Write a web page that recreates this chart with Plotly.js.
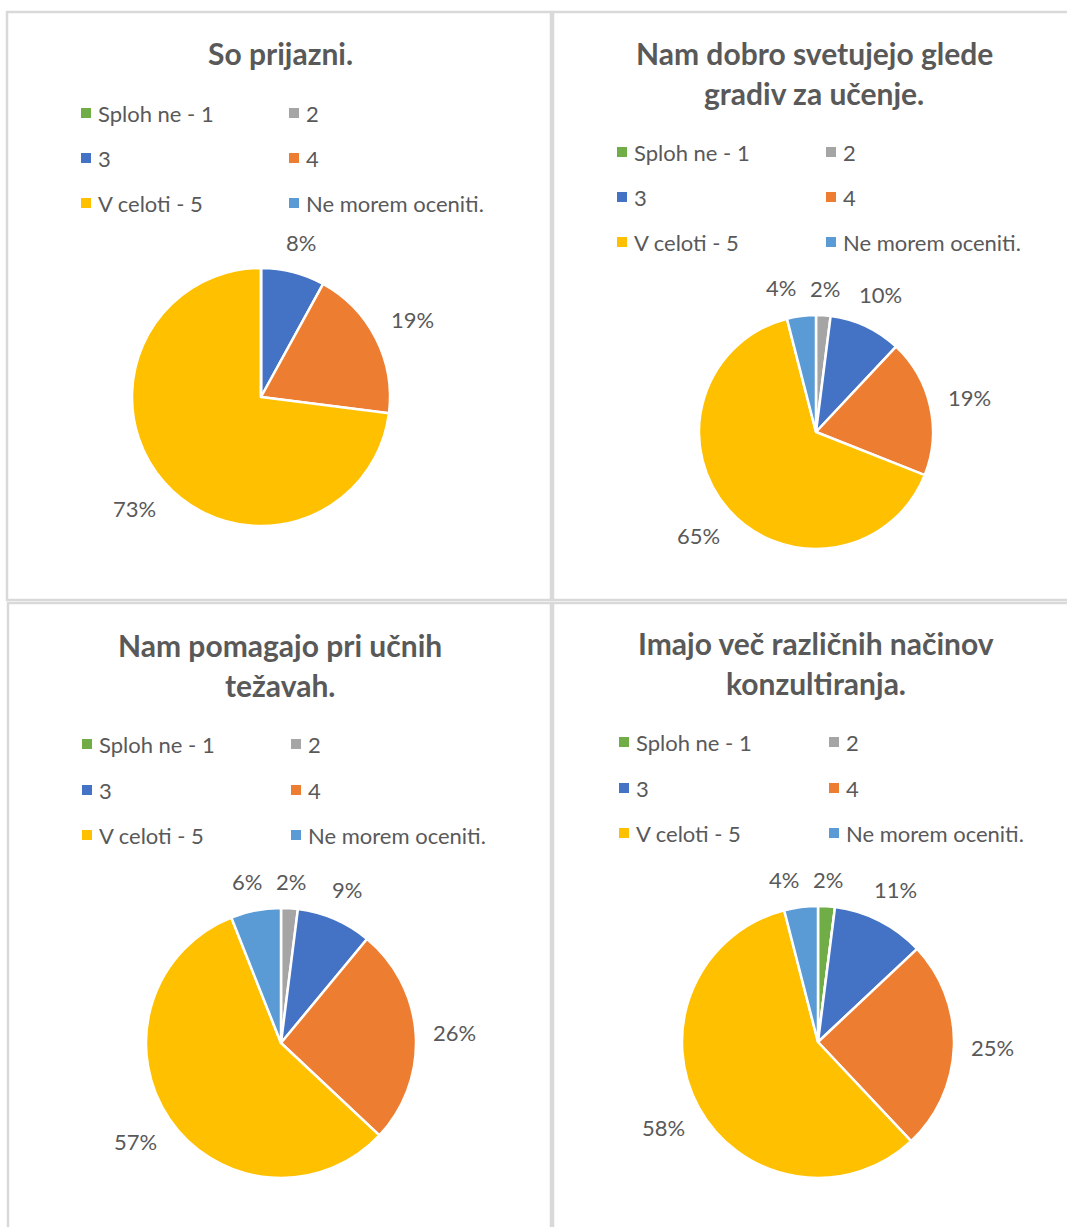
<!DOCTYPE html>
<html><head><meta charset="utf-8">
<script src="https://cdn.plot.ly/plotly-3.0.1.min.js"></script>
<style>html,body{margin:0;padding:0;background:#fff;} #chart{width:1067px;height:1227px;}</style>
</head><body><div id="chart"></div>
<script>
// ---- data ----
const categories = ["Sploh ne - 1", "2", "3", "4", "V celoti - 5", "Ne morem oceniti."];
const colors = ["#70AD47", "#A5A5A5", "#4472C4", "#ED7D31", "#FFC000", "#5B9BD5"];
const titles = [
  "So prijazni.",
  "Nam dobro svetujejo glede<br>gradiv za učenje.",
  "Nam pomagajo pri učnih<br>težavah.",
  "Imajo več različnih načinov<br>konzultiranja."
];
const valuesPrijazni = [0, 0, 8, 19, 73, 0];
const valuesGradiva = [0, 2, 10, 19, 65, 4];
const valuesTezave = [0, 2, 9, 26, 57, 6];
const valuesKonzultiranje = [2, 0, 11, 25, 58, 4];

// ---- layout geometry (pixels) ----
const W = 1067, H = 1227;
const FONT = "Lato, 'Open Sans', sans-serif";
const TXT = "#595959";
const panels = [
  {vals: valuesPrijazni, title: titles[0], box: [7, 12, 551, 600], tx: 280, ty: 53, cx: 261, cy: 397, r: 129, lx: [81, 289], ly: [113, 158, 203]},
  {vals: valuesGradiva, title: titles[1], box: [553, 12, 1075, 600], tx: 814, ty: 53, cx: 816, cy: 432, r: 117, lx: [617, 826], ly: [152, 197, 242]},
  {vals: valuesTezave, title: titles[2], box: [8, 603, 551, 1235], tx: 280, ty: 645, cx: 281, cy: 1043, r: 135, lx: [82, 291], ly: [744, 790, 835]},
  {vals: valuesKonzultiranje, title: titles[3], box: [553, 603, 1075, 1235], tx: 816, ty: 643, cx: 818, cy: 1042, r: 136, lx: [619, 829], ly: [742, 788, 833]}
];
const px = x => x / W;
const py = y => 1 - y / H;

const traces = [], shapes = [], annotations = [];
panels.forEach(p => {
  traces.push({
    type: "pie",
    values: p.vals,
    labels: categories,
    textinfo: "none",
    sort: false,
    direction: "clockwise",
    rotation: 0,
    marker: {colors: colors, line: {color: "#ffffff", width: 2.5}},
    domain: {x: [px(p.cx - p.r), px(p.cx + p.r)], y: [py(p.cy + p.r), py(p.cy - p.r)]},
    showlegend: false,
    hoverinfo: "none"
  });
  // percentage labels placed outside each slice, following the slice mid-angle
  const total = p.vals.reduce((a, b) => a + b, 0);
  let cum = 0;
  const labs = [];
  p.vals.forEach(v => {
    if (v > 0) {
      const t = (cum + v / 2) / total * 2 * Math.PI;
      const txt = Math.round(v / total * 100) + "%";
      const hw = txt.length * 6 + 6, hh = 12;
      const d = p.r + 14 + Math.abs(Math.sin(t)) * hw + Math.abs(Math.cos(t)) * hh;
      labs.push({txt, x: p.cx + d * Math.sin(t), y: p.cy - d * Math.cos(t), hw, hh});
    }
    cum += v;
  });
  // simple collision avoidance: push overlapping labels apart horizontally
  for (let i = 0; i < labs.length; i++) {
    for (let j = 0; j < labs.length; j++) {
      if (i === j) continue;
      const a = labs[i], b = labs[j];
      if (a.x < b.x && Math.abs(a.y - b.y) < a.hh + b.hh) {
        const gap = (b.x - b.hw) - (a.x + a.hw);
        if (gap < 8) a.x -= (8 - gap);
      }
    }
  }
  labs.forEach(l => annotations.push({xref: "paper", yref: "paper", x: px(l.x), y: py(l.y),
    xanchor: "center", yanchor: "middle", showarrow: false, text: l.txt,
    font: {family: FONT, size: 22, color: TXT}}));

  shapes.push({type: "rect", xref: "paper", yref: "paper",
    x0: px(p.box[0]), x1: px(p.box[2]), y0: py(p.box[3]), y1: py(p.box[1]),
    line: {color: "#D9D9D9", width: 2.5}, fillcolor: "rgba(0,0,0,0)", layer: "below"});
  p.title.split("<br>").forEach((line, i) => {
    annotations.push({xref: "paper", yref: "paper", x: px(p.tx), y: py(p.ty + i * 40),
      xanchor: "center", yanchor: "middle", showarrow: false, text: "<b>" + line + "</b>",
      font: {family: FONT, size: 30, color: TXT}});
  });
  categories.forEach((c, i) => {
    const col = i % 2, row = Math.floor(i / 2);
    const x = p.lx[col], y = p.ly[row];
    shapes.push({type: "rect", xref: "paper", yref: "paper",
      x0: px(x), x1: px(x + 10), y0: py(y + 5), y1: py(y - 5),
      line: {width: 0}, fillcolor: colors[i]});
    annotations.push({xref: "paper", yref: "paper", x: px(x + 15), y: py(y),
      xanchor: "left", yanchor: "middle", showarrow: false, text: c,
      font: {family: FONT, size: 22, color: TXT}});
  });
});

const layout = {
  width: W, height: H,
  margin: {l: 0, r: 0, t: 0, b: 0},
  paper_bgcolor: "#ffffff",
  showlegend: false,
  shapes: shapes,
  annotations: annotations,
  font: {family: FONT, color: TXT}
};
Plotly.newPlot("chart", traces, layout, {displayModeBar: false, staticPlot: true});
</script>
</body></html>
